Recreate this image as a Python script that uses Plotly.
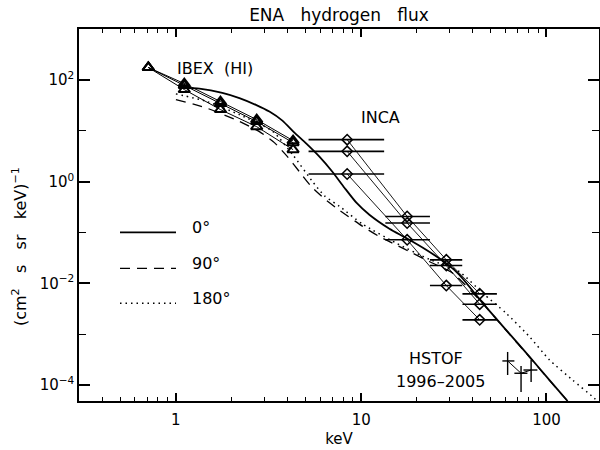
import numpy as np
import plotly.graph_objects as go

# ---------------- data ----------------
# IBEX-Hi energy steps (keV) and three flux series
ibex_e = [0.71, 1.11, 1.74, 2.73, 4.29]
ibex_a = [175, 84.6, 37.4, 16.5, 6.38]
ibex_b = [175, 77.2, 34.1, 15.1, 5.82]
ibex_c = [175, 64.4, 26.0, 12.0, 4.24]

# INCA channels
inca_e = [8.4, 17.7, 28.8, 43.6]
inca_lo = [5.2, 13.5, 23.5, 35.2]
inca_hi = [13.3, 23.5, 35.1, 54.0]
inca_a = [6.67, 0.206, 0.0289, 0.00619]
inca_b = [3.93, 0.153, 0.0223, 0.00388]
inca_c = [1.41, 0.0716, 0.00902, 0.00191]

# HSTOF 1996-2005
hstof_e = [61.7, 72.9, 82.6]
hstof_elo = [57.8, 67.1, 75.1]
hstof_ehi = [67.1, 78.9, 89.3]
hstof_f = [2.97e-4, 1.70e-4, 1.97e-4]
hstof_flo = [1.57e-4, 7.24e-5, 1.15e-4]
hstof_fhi = [4.46e-4, 2.35e-4, 3.10e-4]

# model curves
model_e0 = [1.10, 1.18, 1.339, 1.78, 2.202, 2.72, 3.196, 3.757, 4.36, 5.06, 5.95, 6.99,
            8.12, 9.42, 11.07, 14.2, 17.5, 22.4, 28.7, 33.9, 45.3, 60.5, 80.9, 103.8, 130]
model_0 = [72.1, 69.6, 67.4, 55.5, 43.8, 31.9, 23.8, 15.8, 9.17, 5.57, 3.09, 1.563,
           0.757, 0.3835, 0.2225, 0.118, 0.0774, 0.0455, 0.0249, 0.01465, 0.00406,
           0.00121, 3.61e-4, 1.25e-4, 4.84e-5]

model_e90 = [1.0, 1.456, 2.20, 2.822, 3.40, 4.00, 4.64, 5.39, 6.33, 7.63, 10.2, 12.5,
             15.4, 18.9, 23.3, 31.2, 45.3, 60.5, 80.9, 103.8, 130]
model_90 = [40.9, 28.1, 15.3, 9.59, 5.83, 3.09, 1.564, 0.792, 0.46, 0.273, 0.131, 0.0832,
            0.0571, 0.0392, 0.0268, 0.0158, 0.0040, 0.00119, 3.55e-4, 1.23e-4, 4.84e-5]

model_e180 = [1.0, 1.456, 2.20, 3.33, 4.27, 5.47, 6.33, 7.63, 10.2, 15.4, 23.3, 33.9,
              45.3, 60.5, 80.9, 103.8, 138.4, 177.5, 188]
model_180 = [53.0, 37.9, 20.7, 9.72, 3.38, 0.993, 0.527, 0.327, 0.1446, 0.062, 0.0296,
             0.0168, 0.0064, 0.00258, 8.93e-4, 3.11e-4, 1.25e-4, 5.87e-5, 4.84e-5]

x_ticks = [1, 10, 100]
x_ticktext = ["1", "10", "100"]
y_ticks = [1e-4, 1e-2, 1, 1e2]
y_ticktext = ["10<sup>\u22124</sup>", "10<sup>\u22122</sup>", "10<sup>0</sup>", "10<sup>2</sup>"]
legend_labels = ["0\u00b0", "90\u00b0", "180\u00b0"]

# ---------------- figure ----------------
FONT = "DejaVu Sans"
K = "black"
fig = go.Figure()

fig.add_trace(go.Scatter(x=model_e0, y=model_0, mode="lines",
                         line=dict(color=K, width=1.8, shape="spline", smoothing=0.6)))
fig.add_trace(go.Scatter(x=model_e90, y=model_90, mode="lines",
                         line=dict(color=K, width=1.3, dash="10px,7px", shape="spline", smoothing=0.6)))
fig.add_trace(go.Scatter(x=model_e180, y=model_180, mode="lines",
                         line=dict(color=K, width=1.5, dash="1.5px,4px", shape="spline", smoothing=0.6)))

for s in (ibex_a, ibex_b, ibex_c):
    fig.add_trace(go.Scatter(x=ibex_e, y=s, mode="lines+markers",
                             line=dict(color=K, width=1),
                             marker=dict(symbol="triangle-up-open", size=10, color=K,
                                         line=dict(color=K, width=2))))

for s in (inca_a, inca_b, inca_c):
    fig.add_trace(go.Scatter(
        x=inca_e, y=s, mode="lines+markers",
        line=dict(color=K, width=0.9),
        marker=dict(symbol="diamond-open", size=8, color=K, line=dict(color=K, width=1.5)),
        error_x=dict(type="data", symmetric=False,
                     array=[h - e for h, e in zip(inca_hi, inca_e)],
                     arrayminus=[e - l for e, l in zip(inca_e, inca_lo)],
                     thickness=1.6, width=0, color=K)))

fig.add_trace(go.Scatter(
    x=hstof_e, y=hstof_f, mode="lines", line=dict(color=K, width=1),
    error_x=dict(type="data", symmetric=False,
                 array=[h - e for h, e in zip(hstof_ehi, hstof_e)],
                 arrayminus=[e - l for e, l in zip(hstof_e, hstof_elo)],
                 thickness=1.4, width=0, color=K),
    error_y=dict(type="data", symmetric=False,
                 array=[h - f for h, f in zip(hstof_fhi, hstof_f)],
                 arrayminus=[f - l for f, l in zip(hstof_f, hstof_flo)],
                 thickness=1.4, width=0, color=K)))

minor_x = [m * 10.0 ** d for d in (-1, 0, 1, 2) for m in range(2, 10)
           if 0.3 <= m * 10.0 ** d <= 200 and m * 10.0 ** d not in (1, 10, 100)]
minor_y = [1e-3, 1e-1, 1e1]

W, H = 600, 450
L, R, T, B = 79, 1, 29, 49
PW, PH = W - L - R, H - T - B
x0 = np.log10(0.3)
xr = [x0, x0 + PW / 185.3]
yr = [-4.315, 3.0]

def px(xp):
    return (xp - L) / PW

def py(yp):
    return (H - B - yp) / PH

axis_common = dict(type="log", showline=True, linecolor=K, linewidth=1.5,
                   mirror="allticks", ticks="inside", tickcolor=K, tickwidth=1.5,
                   showgrid=False, zeroline=False, tickmode="array",
                   tickfont=dict(family=FONT, size=15, color=K))

fig.update_layout(
    width=W, height=H, margin=dict(l=L, r=R, t=T, b=B, autoexpand=False),
    paper_bgcolor="white", plot_bgcolor="white", showlegend=False,
    font=dict(family=FONT, size=15, color=K),
    title=dict(text="ENA\u00a0\u00a0\u00a0hydrogen\u00a0\u00a0\u00a0flux",
               font=dict(family=FONT, size=17, color=K),
               xref="paper", x=0.5, xanchor="center",
               yref="container", y=1 - 15 / H, yanchor="middle"),
    xaxis=dict(axis_common, range=xr, tickvals=x_ticks, ticktext=x_ticktext, ticklen=8,
               ticklabelstandoff=4,
               minor=dict(ticks="inside", ticklen=4, tickwidth=1.2, tickcolor=K,
                          tickvals=minor_x, showgrid=False),
               title=dict(text="keV", standoff=6, font=dict(family=FONT, size=15, color=K))),
    yaxis=dict(axis_common, range=yr, tickvals=y_ticks, ticktext=y_ticktext, ticklen=11,
               ticklabelstandoff=0,
               minor=dict(ticks="inside", ticklen=7, tickwidth=1.2, tickcolor=K,
                          tickvals=minor_y, showgrid=False)),
)

ann_font = dict(family=FONT, size=16, color=K)
annotations = [
    dict(text="(cm<sup>2</sup>\u00a0\u00a0\u00a0s\u00a0\u00a0\u00a0sr\u00a0\u00a0\u00a0keV)<sup>\u22121</sup>",
         x=px(20), y=py(247), textangle=-90, xanchor="center", yanchor="middle"),
    dict(text="IBEX\u00a0\u00a0(HI)", x=px(175), y=py(68.3), xanchor="left", yanchor="middle"),
    dict(text="INCA", x=px(380), y=py(117), xanchor="center", yanchor="middle"),
    dict(text="HSTOF", x=px(436), y=py(358), xanchor="center", yanchor="middle"),
    dict(text="1996\u20132005", x=px(440), y=py(381), xanchor="center", yanchor="middle"),
]
leg_y_line = [232.3, 268.3, 303.3]
leg_y_text = [227.5, 263.5, 298.5]
for lab, yt in zip(legend_labels, leg_y_text):
    annotations.append(dict(text=lab, x=px(190), y=py(yt), xanchor="left", yanchor="middle"))
for a in annotations:
    a.update(xref="paper", yref="paper", showarrow=False, font=ann_font)
fig.update_layout(annotations=annotations)

dashes = ["solid", "10px,7px", "1.5px,4px"]
widths = [1.8, 1.3, 1.5]
for yl, d, w in zip(leg_y_line, dashes, widths):
    fig.add_shape(type="line", xref="paper", yref="paper",
                  x0=px(120), x1=px(176), y0=py(yl), y1=py(yl),
                  line=dict(color=K, width=w, dash=d))

fig.write_html("out.html")
